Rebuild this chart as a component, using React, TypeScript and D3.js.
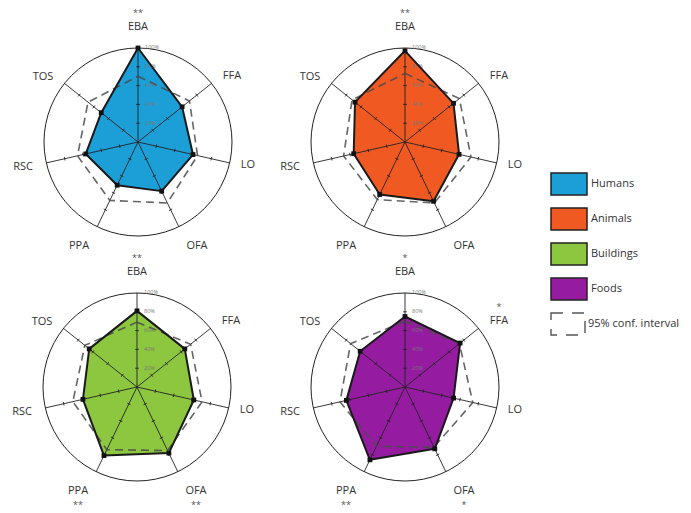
import React from "react";
import * as d3 from "d3";

const axes = ["EBA", "FFA", "LO", "OFA", "PPA", "RSC", "TOS"];
const tickLabels = ["20%", "40%", "60%", "80%", "100%"];
const tickValues = [20, 40, 60, 80, 100];

const humans = [100, 60, 60, 58, 51, 57, 50];
const animals = [97, 66, 59, 70, 62, 56, 68];
const buildings = [81, 65, 62, 78, 81, 59, 65];
const foods = [75, 75, 53, 73, 86, 64, 61];

const humansCI = [70, 70, 65, 72, 69, 66, 68];
const animalsCI = [73, 74, 72, 72, 68, 67, 72];
const buildingsCI = [69, 73, 71, 75, 74, 70, 71];
const foodsCI = [70, 74, 74, 71, 70, 71, 74];

const humansStars = ["**", "", "", "", "", "", ""];
const animalsStars = ["**", "", "", "", "", "", ""];
const buildingsStars = ["**", "", "", "**", "**", "", ""];
const foodsStars = ["*", "*", "", "*", "**", "", ""];

const seriesNames = ["Humans", "Animals", "Buildings", "Foods"];
const ciLabel = "95% conf. interval";

const colors = ["#1c9fd7", "#f05a22", "#8dc63f", "#951ca0"];

// layout
const R = 94;
const centers: [number, number][] = [
  [138, 142],
  [405, 142],
  [137, 387],
  [405, 387],
];
const labelOffsets: [number, number][] = [
  [0, -115],
  [94, -66],
  [110, 23],
  [59, 104],
  [-59, 104],
  [-115, 25],
  [-95, -65],
];
const FONT = "'Open Sans', 'Noto Sans', sans-serif";

const rScale = d3.scaleLinear().domain([0, 100]).range([0, R]);
const angle = (i: number) => (i * 2 * Math.PI) / axes.length;

function Radar({
  cx,
  cy,
  values,
  ci,
  stars,
  color,
}: {
  cx: number;
  cy: number;
  values: number[];
  ci: number[];
  stars: string[];
  color: string;
}) {
  const radial = d3
    .lineRadial<number>()
    .angle((_, i) => angle(i))
    .radius((d) => rScale(d))
    .curve(d3.curveLinearClosed);
  const pt = (i: number, v: number): [number, number] => [
    Math.sin(angle(i)) * rScale(v),
    -Math.cos(angle(i)) * rScale(v),
  ];
  return (
    <g transform={`translate(${cx},${cy})`}>
      <circle r={R} fill="#fff" stroke="#222" strokeWidth={1} />
      <path d={radial(values) || ""} fill={color} stroke="none" />
      {axes.map((a, i) => {
        const [x, y] = pt(i, 100);
        const ux = Math.cos(angle(i));
        const uy = Math.sin(angle(i));
        return (
          <g key={a}>
            <line x1={0} y1={0} x2={x} y2={y} stroke="#222" strokeWidth={0.9} />
            {tickValues.slice(0, 4).map((t) => {
              const [tx, ty] = pt(i, t);
              return (
                <line
                  key={t}
                  x1={tx - ux * 1.8}
                  y1={ty - uy * 1.8}
                  x2={tx + ux * 1.8}
                  y2={ty + uy * 1.8}
                  stroke="#222"
                  strokeWidth={0.9}
                />
              );
            })}
          </g>
        );
      })}
      {tickValues.map((t, k) => (
        <text
          key={t}
          x={7}
          y={-rScale(t)}
          fontSize={5.5}
          fill="#777"
          fontFamily={FONT}
          dominantBaseline="middle"
        >
          {tickLabels[k]}
        </text>
      ))}
      <path
        d={radial(ci) || ""}
        fill="none"
        stroke="#4a4a4a"
        strokeOpacity={0.85}
        strokeWidth={1.6}
        strokeDasharray="8 5"
      />
      <path d={radial(values) || ""} fill="none" stroke="#1a1a1a" strokeWidth={2} strokeLinejoin="round" />
      {values.map((v, i) => {
        const [x, y] = pt(i, v);
        return <rect key={i} x={x - 2.4} y={y - 2.4} width={4.8} height={4.8} fill="#111" />;
      })}
      {axes.map((a, i) => {
        const [lx, ly] = labelOffsets[i];
        const upper = ly < 0 && i < 2;
        return (
          <g key={a}>
            <text
              x={lx}
              y={ly}
              textAnchor="middle"
              dominantBaseline="middle"
              fontSize={11}
              fill="#333"
              fontFamily={FONT}
            >
              {a}
            </text>
            {stars[i] && (
              <text
                x={lx}
                y={upper ? ly - 13 : ly + 15}
                textAnchor="middle"
                dominantBaseline="middle"
                fontSize={9}
                fill="#555"
                fontFamily={FONT}
              >
                {stars[i]}
              </text>
            )}
          </g>
        );
      })}
    </g>
  );
}

export default function App() {
  const data = [humans, animals, buildings, foods];
  const cis = [humansCI, animalsCI, buildingsCI, foodsCI];
  const starSets = [humansStars, animalsStars, buildingsStars, foodsStars];
  const legendY = d3.scaleLinear().domain([0, 1]).range([173, 208]);
  return (
    <svg
      width={691}
      height={513}
      style={{ position: "absolute", left: 0, top: 0, background: "#fff" }}
    >
      <rect width={691} height={513} fill="#fff" />
      {data.map((d, k) => (
        <Radar
          key={k}
          cx={centers[k][0]}
          cy={centers[k][1]}
          values={d}
          ci={cis[k]}
          stars={starSets[k]}
          color={colors[k]}
        />
      ))}
      {seriesNames.map((n, k) => (
        <g key={n} transform={`translate(551,${legendY(k)})`}>
          <rect width={36} height={22} fill={colors[k]} stroke="#222" strokeWidth={1.5} />
          <text x={40} y={11} dominantBaseline="middle" fontSize={11} fill="#333" fontFamily={FONT}>
            {n}
          </text>
        </g>
      ))}
      <g transform={`translate(551,${legendY(4)})`}>
        <rect
          width={34}
          height={22}
          fill="none"
          stroke="#555"
          strokeWidth={1.4}
          strokeDasharray="12 9"
        />
        <text x={37} y={11} dominantBaseline="middle" fontSize={11} fill="#333" fontFamily={FONT}>
          {ciLabel}
        </text>
      </g>
    </svg>
  );
}
